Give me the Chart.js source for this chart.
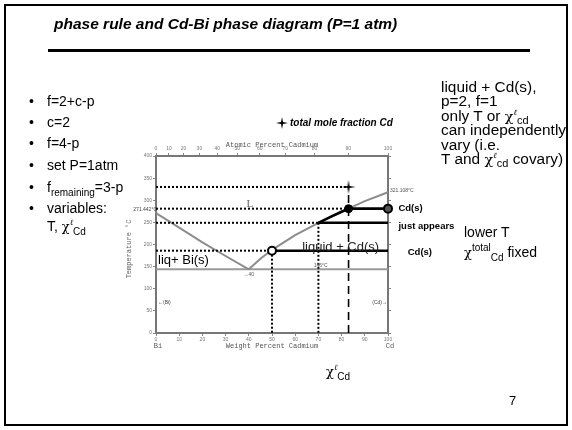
<!DOCTYPE html>
<html><head><meta charset="utf-8">
<script src="https://cdn.jsdelivr.net/npm/chart.js@4/dist/chart.umd.min.js"></script>
<style>
html,body{margin:0;padding:0;background:#fff;}
#wrap{position:relative;width:572px;height:430px;overflow:hidden;font-family:"Liberation Sans",Arial,sans-serif;}
#frame{position:absolute;left:4px;top:4px;width:564px;height:422px;border:2px solid #000;box-sizing:border-box;}
#cw{position:absolute;left:0;top:0;width:572px;height:430px;}
.t{position:absolute;white-space:nowrap;color:#000;font-size:14px;line-height:16px;}
.chi{font-family:"DejaVu Serif","Liberation Serif",serif;font-size:13px;line-height:0;}
.sup{font-size:8px;position:relative;top:-6px;font-style:italic;font-family:"DejaVu Serif",serif;line-height:0;}
.sub{font-size:10px;position:relative;top:4px;line-height:0;}
</style></head>
<body>
<div id="wrap">
<div id="frame"></div>
<div id="cw"><canvas id="c" width="572" height="430"></canvas></div>
<div class="t" style="left:54px;top:15px;font:italic bold 15.5px 'Liberation Sans',Arial,sans-serif;">phase rule and Cd-Bi phase diagram (P=1 atm)</div>
<div style="position:absolute;left:48px;top:49px;width:482px;height:3px;background:#000;"></div>

<div class="t" style="left:29px;top:93px;">•</div><div class="t" style="left:47px;top:93px;">f=2+c-p</div>
<div class="t" style="left:29px;top:114px;">•</div><div class="t" style="left:47px;top:114px;">c=2</div>
<div class="t" style="left:29px;top:135px;">•</div><div class="t" style="left:47px;top:135px;">f=4-p</div>
<div class="t" style="left:29px;top:157px;">•</div><div class="t" style="left:47px;top:157px;">set P=1atm</div>
<div class="t" style="left:29px;top:179px;">•</div><div class="t" style="left:47px;top:179px;">f<span class="sub">remaining</span>=3-p</div>
<div class="t" style="left:29px;top:200px;">•</div><div class="t" style="left:47px;top:200px;">variables:</div>
<div class="t" style="left:47px;top:218px;">T, <span class="chi">χ</span><span class="sup">ℓ</span><span class="sub">Cd</span></div>

<div class="t" style="left:441px;top:80px;line-height:14.4px;font-size:14px;transform:scaleX(1.1);transform-origin:0 0;">liquid + Cd(s),<br>p=2, f=1<br>only T or <span class="chi">χ</span><span class="sup">ℓ</span><span class="sub" style="top:3px">cd</span><br>can independently<br>vary (i.e.<br>T and <span class="chi">χ</span><span class="sup">ℓ</span><span class="sub" style="top:3px">cd</span> covary)</div>

<div class="t" style="left:464px;top:224px;">lower T</div>
<div class="t" style="left:464px;top:244px;"><span class="chi">χ</span><span class="sup" style="font-style:normal;font-family:'Liberation Sans';font-size:10px;">total</span><span class="sub">Cd</span> fixed</div>

<div class="t" style="left:326px;top:363px;"><span class="chi">χ</span><span class="sup">ℓ</span><span class="sub">Cd</span></div>
<div class="t" style="left:509px;top:393px;font-size:13px;">7</div>
</div>

<script>
// ---- data (weight % Cd, temperature °C) ----
const liqBiWt = [0, 10, 20, 30, 40];
const liqBiT  = [271, 238, 205, 174, 144];
const liqCdWt = [40, 45, 50, 60, 70, 80, 83, 90, 100];
const liqCdT  = [144, 168, 188, 221, 249, 274, 281, 298, 318];
const eutecticWt = [0, 100];
const eutecticT  = [144, 144];
const hotSegWt = [70, 75, 80, 83];
const hotSegT  = [249, 262, 274, 281];
const dottedT     = [330, 281, 249, 186];
const dottedEndWt = [83, 83, 70, 50];
const dropWt = [50, 70];
const dropT  = [186, 249];
const tieStartWt = [50, 70, 83];
const tieT       = [186, 249, 281];
const tieEndWt   = 100;
const totalWt = 83;
const totalT  = 330;
const dashTopT = 324;
const cdDotWt = 104.7;
const cdDotT  = 182;
// axis ticks
const tempTicks = [0, 50, 100, 150, 200, 250, 300, 350, 400];
const wtTicks = [0, 10, 20, 30, 40, 50, 60, 70, 80, 90, 100];
const atLabels = ['0', '10', '20', '30', '40', '50', '60', '70', '80', '90', '100'];
const atPosWt  = [0, 5.6, 11.9, 18.7, 26.4, 35.0, 44.7, 55.7, 68.3, 82.9, 100];

const pts = (xs, ys) => xs.map((v, i) => ({x: v, y: ys[i]}));

function makeStar(r) {
  const c = document.createElement('canvas');
  c.width = c.height = 2 * r + 2;
  const g = c.getContext('2d');
  const m = r + 1, ir = 1.4;
  g.beginPath();
  for (let k = 0; k < 8; k++) {
    const a = -Math.PI / 2 + k * Math.PI / 4;
    const rr = k % 2 === 0 ? r : ir;
    const px = m + rr * Math.cos(a), py = m + rr * Math.sin(a);
    k === 0 ? g.moveTo(px, py) : g.lineTo(px, py);
  }
  g.closePath();
  g.fillStyle = '#000';
  g.fill();
  return c;
}
const star = makeStar(7);
const starSmall = makeStar(6);

const GREY = '#8c8c8c';
const datasets = [];
datasets.push({data: pts(liqBiWt, liqBiT), borderColor: GREY, borderWidth: 2, order: 20});
datasets.push({data: pts(liqCdWt, liqCdT), borderColor: GREY, borderWidth: 2, order: 20});
datasets.push({data: pts(eutecticWt, eutecticT), borderColor: '#9a9a9a', borderWidth: 2, order: 20});
dottedT.forEach((t, i) => datasets.push({data: pts([0, dottedEndWt[i]], [t, t]), borderColor: '#000', borderWidth: 2, borderDash: [2, 2], order: 10}));
dropWt.forEach((w, i) => datasets.push({data: pts([w, w], [dropT[i], 0]), borderColor: '#000', borderWidth: 2, borderDash: [2, 2], order: 10}));
datasets.push({data: pts([totalWt, totalWt], [0, dashTopT]), borderColor: '#000', borderWidth: 1.6, borderDash: [8, 5], order: 10});
tieT.forEach((t, i) => datasets.push({data: pts([tieStartWt[i], tieEndWt], [t, t]), borderColor: '#000', borderWidth: 2.6, order: 8}));
datasets.push({data: pts(hotSegWt, hotSegT), borderColor: '#000', borderWidth: 2.6, order: 8});
// markers
datasets.push({data: [{x: totalWt, y: totalT}], showLine: false, pointStyle: star, order: 1});
datasets.push({data: [{x: tieStartWt[0], y: tieT[0]}], showLine: false, pointRadius: 4, pointBackgroundColor: '#fff', pointBorderColor: '#000', pointBorderWidth: 2, order: 1});
datasets.push({data: [{x: tieStartWt[2], y: tieT[2]}], showLine: false, pointRadius: 4, pointBackgroundColor: '#000', pointBorderColor: '#000', pointBorderWidth: 1, order: 1});
datasets.push({data: [{x: tieEndWt, y: tieT[2]}], showLine: false, pointRadius: 4, pointBackgroundColor: '#555', pointBorderColor: '#000', pointBorderWidth: 2, order: 1});
datasets.push({data: [{x: cdDotWt, y: cdDotT}], showLine: false, pointRadius: 3.5, pointBackgroundColor: '#000', pointBorderColor: '#000', pointBorderWidth: 1, order: 1});
datasets.forEach(d => {
  if (d.showLine === undefined) { d.showLine = true; d.pointRadius = 0; }
  d.clip = false; d.tension = 0;
});

const tickFont = {family: 'Liberation Sans', size: 5};
const axisCommon = {
  grid: {drawOnChartArea: false, drawTicks: true, tickLength: 3, color: '#888'},
  border: {display: true, color: '#777', width: 2}
};

const labelsPlugin = {
  id: 'labels',
  afterDatasetsDraw(chart) {
    const ctx = chart.ctx, xs = chart.scales.x, ys = chart.scales.y, ca = chart.chartArea;
    const X = v => xs.getPixelForValue(v), Y = v => ys.getPixelForValue(v);
    ctx.save();
    ctx.textBaseline = 'middle';
    const txt = (s, x, y, font, color, align) => {
      ctx.font = font; ctx.fillStyle = color || '#000'; ctx.textAlign = align || 'left';
      ctx.fillText(s, x, y);
    };
    const mono = "7px 'Liberation Mono', monospace";
    txt('Atomic Percent Cadmium', X(50), ca.top - 11, mono, '#555', 'center');
    txt('Weight Percent Cadmium', X(50), ca.bottom + 13, mono, '#555', 'center');
    txt('Bi', X(0) + 2, ca.bottom + 13, mono, '#555', 'center');
    txt('Cd', X(100) + 2, ca.bottom + 13, mono, '#555', 'center');
    ctx.save();
    ctx.translate(ca.left - 27, Y(190));
    ctx.rotate(-Math.PI / 2);
    txt('Temperature °C', 0, 0, mono, '#666', 'center');
    ctx.restore();
    const tiny = "5px 'Liberation Sans', sans-serif";
    txt('271.442°C', X(0) + 1, Y(271) - 3, tiny, '#444', 'right');
    txt('321.108°C', X(100) + 2, Y(321), tiny, '#555', 'left');
    txt('→40', X(40), Y(144) + 5, tiny, '#555', 'center');
    txt('146°C', X(71), Y(144) - 4, tiny, '#555', 'center');
    txt('←(Bi)', X(0) + 2, Y(69), tiny, '#444', 'left');
    txt('(Cd)→', X(100) - 1, Y(68), tiny, '#444', 'right');
    txt('L', X(40.5), Y(292), "11px 'Liberation Serif', serif", '#666', 'center');
    txt('liq+ Bi(s)', X(0) + 2, Y(164), "13px 'Liberation Sans', sans-serif", '#000', 'left');
    txt('liquid + Cd(s)', X(63), Y(194), "13px 'Liberation Sans', sans-serif", '#222', 'left');
    const bold = "bold 9.5px 'Liberation Sans', sans-serif";
    txt('Cd(s)', X(104.5), Y(281), bold, '#000', 'left');
    txt('just appears', X(104.5), Y(240), bold, '#000', 'left');
    txt('Cd(s)', X(108.5), Y(182), bold, '#000', 'left');
    // legend
    ctx.drawImage(starSmall, 275, 116);
    txt('total mole fraction Cd', 290, 123, "italic bold 10px 'Liberation Sans', sans-serif", '#000', 'left');
    ctx.restore();
  }
};

new Chart(document.getElementById('c'), {
  type: 'scatter',
  data: {datasets},
  options: {
    responsive: false,
    animation: false,
    devicePixelRatio: 1,
    layout: {padding: {left: 136, right: 182, top: 146, bottom: 87}},
    plugins: {legend: {display: false}, tooltip: {enabled: false}},
    scales: {
      x: Object.assign({}, axisCommon, {
        type: 'linear', position: 'bottom', min: 0, max: 100,
        afterBuildTicks: s => { s.ticks = wtTicks.map(v => ({value: v})); },
        ticks: {font: tickFont, color: '#777', padding: 1, maxRotation: 0, autoSkip: false},
        afterFit: s => { s.height = 10; }
      }),
      xTop: Object.assign({}, axisCommon, {
        type: 'linear', position: 'top', min: 0, max: 100,
        afterBuildTicks: s => { s.ticks = atPosWt.map(v => ({value: v})); },
        ticks: {font: tickFont, color: '#777', padding: 1, maxRotation: 0, autoSkip: false,
          callback: (v, i) => atLabels[i]},
        afterFit: s => { s.height = 10; }
      }),
      y: Object.assign({}, axisCommon, {
        type: 'linear', position: 'left', min: 0, max: 400,
        afterBuildTicks: s => { s.ticks = tempTicks.map(v => ({value: v})); },
        ticks: {font: tickFont, color: '#777', padding: 1, autoSkip: false},
        afterFit: s => { s.width = 20; }
      }),
      yR: Object.assign({}, axisCommon, {
        type: 'linear', position: 'right', min: 0, max: 400,
        ticks: {display: false},
        afterFit: s => { s.width = 2; }
      })
    }
  },
  plugins: [labelsPlugin]
});
</script>
</body></html>
